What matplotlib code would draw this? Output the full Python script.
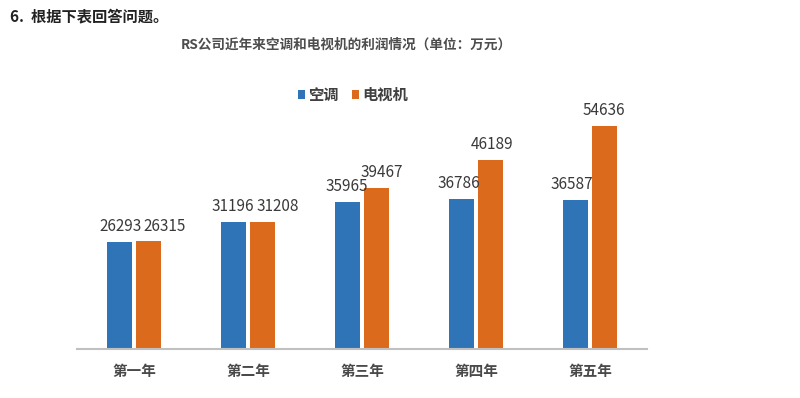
import numpy as np
import matplotlib.pyplot as plt

plt.rcParams["font.family"] = ["Noto Sans CJK SC", "DejaVu Sans"]

# 数据
years = ["第一年", "第二年", "第三年", "第四年", "第五年"]
kongtiao = [26293, 31196, 35965, 36786, 36587]
dianshi = [26315, 31208, 39467, 46189, 54636]

# 标签的水平偏移（像素），避免数字挤在一起
dx_kt = [1, -1, -1, -3, -4]
dx_ds = [16, 15, 5, 1.5, -1]

blue = "#2f74b7"
orange = "#dc6a1c"

fig = plt.figure(figsize=(8, 3.98), dpi=100)
ax = fig.add_axes([77 / 800, 1 - 349 / 398, 570 / 800, 239 / 398])

x = np.arange(len(years))
w = 0.215
b1 = ax.bar(x - 0.127, kongtiao, w, color=blue, label="空调")
b2 = ax.bar(x + 0.127, dianshi, w, color=orange, label="电视机")

for bars, vals, dxs in ((b1, kongtiao, dx_kt), (b2, dianshi, dx_ds)):
    for r, v, d in zip(bars, vals, dxs):
        ax.annotate(str(v), (r.get_x() + r.get_width() / 2, v),
                    xytext=(d * 0.72, 5), textcoords="offset points",
                    ha="center", va="bottom", fontsize=11, color="#3a3a3a")

ax.set_xlim(-0.5, 4.5)
ax.set_ylim(0, 58500)
ax.set_xticks(x)
ax.set_xticklabels(years, fontsize=10.5, color="#4a4a4a", fontweight="bold")
ax.tick_params(axis="x", length=0, pad=10)
ax.set_yticks([])
for s in ["top", "right", "left"]:
    ax.spines[s].set_visible(False)
ax.spines["bottom"].set_color("#c0c0c0")
ax.spines["bottom"].set_linewidth(1.5)

fig.text(10 / 800, 1 - 16 / 398, "6.  根据下表回答问题。", fontsize=11,
         color="#222222", va="center", ha="left", fontweight="bold")
fig.text(346 / 800, 1 - 45 / 398, "RS公司近年来空调和电视机的利润情况（单位：万元）",
         fontsize=9.8, color="#4d4d4d", va="center", ha="center", fontweight="bold")

fig.legend(loc="center", bbox_to_anchor=(353 / 800, 1 - 95 / 398), ncol=2,
           frameon=False, fontsize=11, handlelength=0.45, handleheight=0.45,
           handletextpad=0.2, columnspacing=0.9, labelcolor="#404040",
           prop={"weight": "bold", "size": 11})

fig.savefig("out.png", dpi=100, facecolor="white")
